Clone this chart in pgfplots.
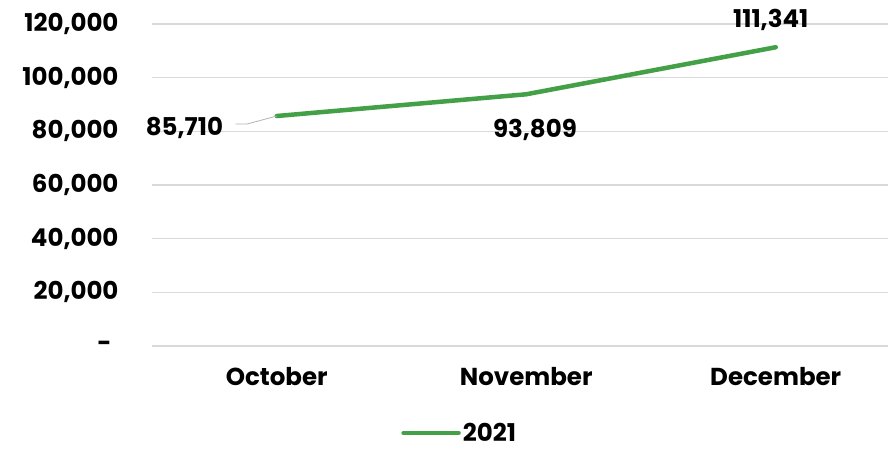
\documentclass[border=0pt]{standalone}
\usepackage{pgfplots}
\pgfplotsset{compat=1.18}
\usepackage{fontspec}
\setmainfont{Poppins}
\definecolor{lineGreen}{RGB}{67,160,71}
\definecolor{gridGrey}{RGB}{217,217,217}
\newcommand{\lblfont}{\fontsize{24.5}{27}\selectfont\bfseries}
\begin{document}
\begin{tikzpicture}
\begin{axis}[
  scale only axis, width=736pt, height=322pt,
  xmin=-0.5, xmax=2.45, ymin=0, ymax=120000,
  xtick={0,1,2}, xticklabels={October,November,December},
  ytick={0,20000,40000,60000,80000,100000,120000},
  yticklabels={\makebox[21pt][l]{-},{20,000},{40,000},{60,000},{80,000},{100,000},{120,000}},
  scaled y ticks=false,
  axis line style={draw=none}, tick style={draw=none},
  ymajorgrids, grid style={gridGrey, line width=1.2pt},
  font=\lblfont,
  ticklabel style={font=\lblfont},
  /pgf/number format/assume math mode=true,
  yticklabel style={anchor=east, xshift=-30pt},
  xticklabel style={yshift=-18pt},
  clip=false,
  legend style={draw=none, at={(0.418,-0.27)}, anchor=center, font=\lblfont},
  legend image code/.code={\draw[#1, line width=4.5pt] (0pt,0pt) -- (55pt,0pt);},
]
\addplot[lineGreen, line width=4.5pt, line cap=round] coordinates {(0,85710) (1,93809) (2,111341)};
\addlegendentry{2021}
\draw[gray!60, line width=0.8pt] (axis cs:-0.165,82700) -- (axis cs:-0.12,82700) -- (axis cs:0,85710);
\node[anchor=center] at (axis cs:-0.37,81240) {85,710};
\node[anchor=center] at (axis cs:1.035,80500) {93,809};
\node[anchor=center] at (axis cs:1.98,121490) {111,341};
\end{axis}
\pgfresetboundingbox
\path (-152pt,-104pt) rectangle (736pt,346pt);
\end{tikzpicture}
\end{document}
